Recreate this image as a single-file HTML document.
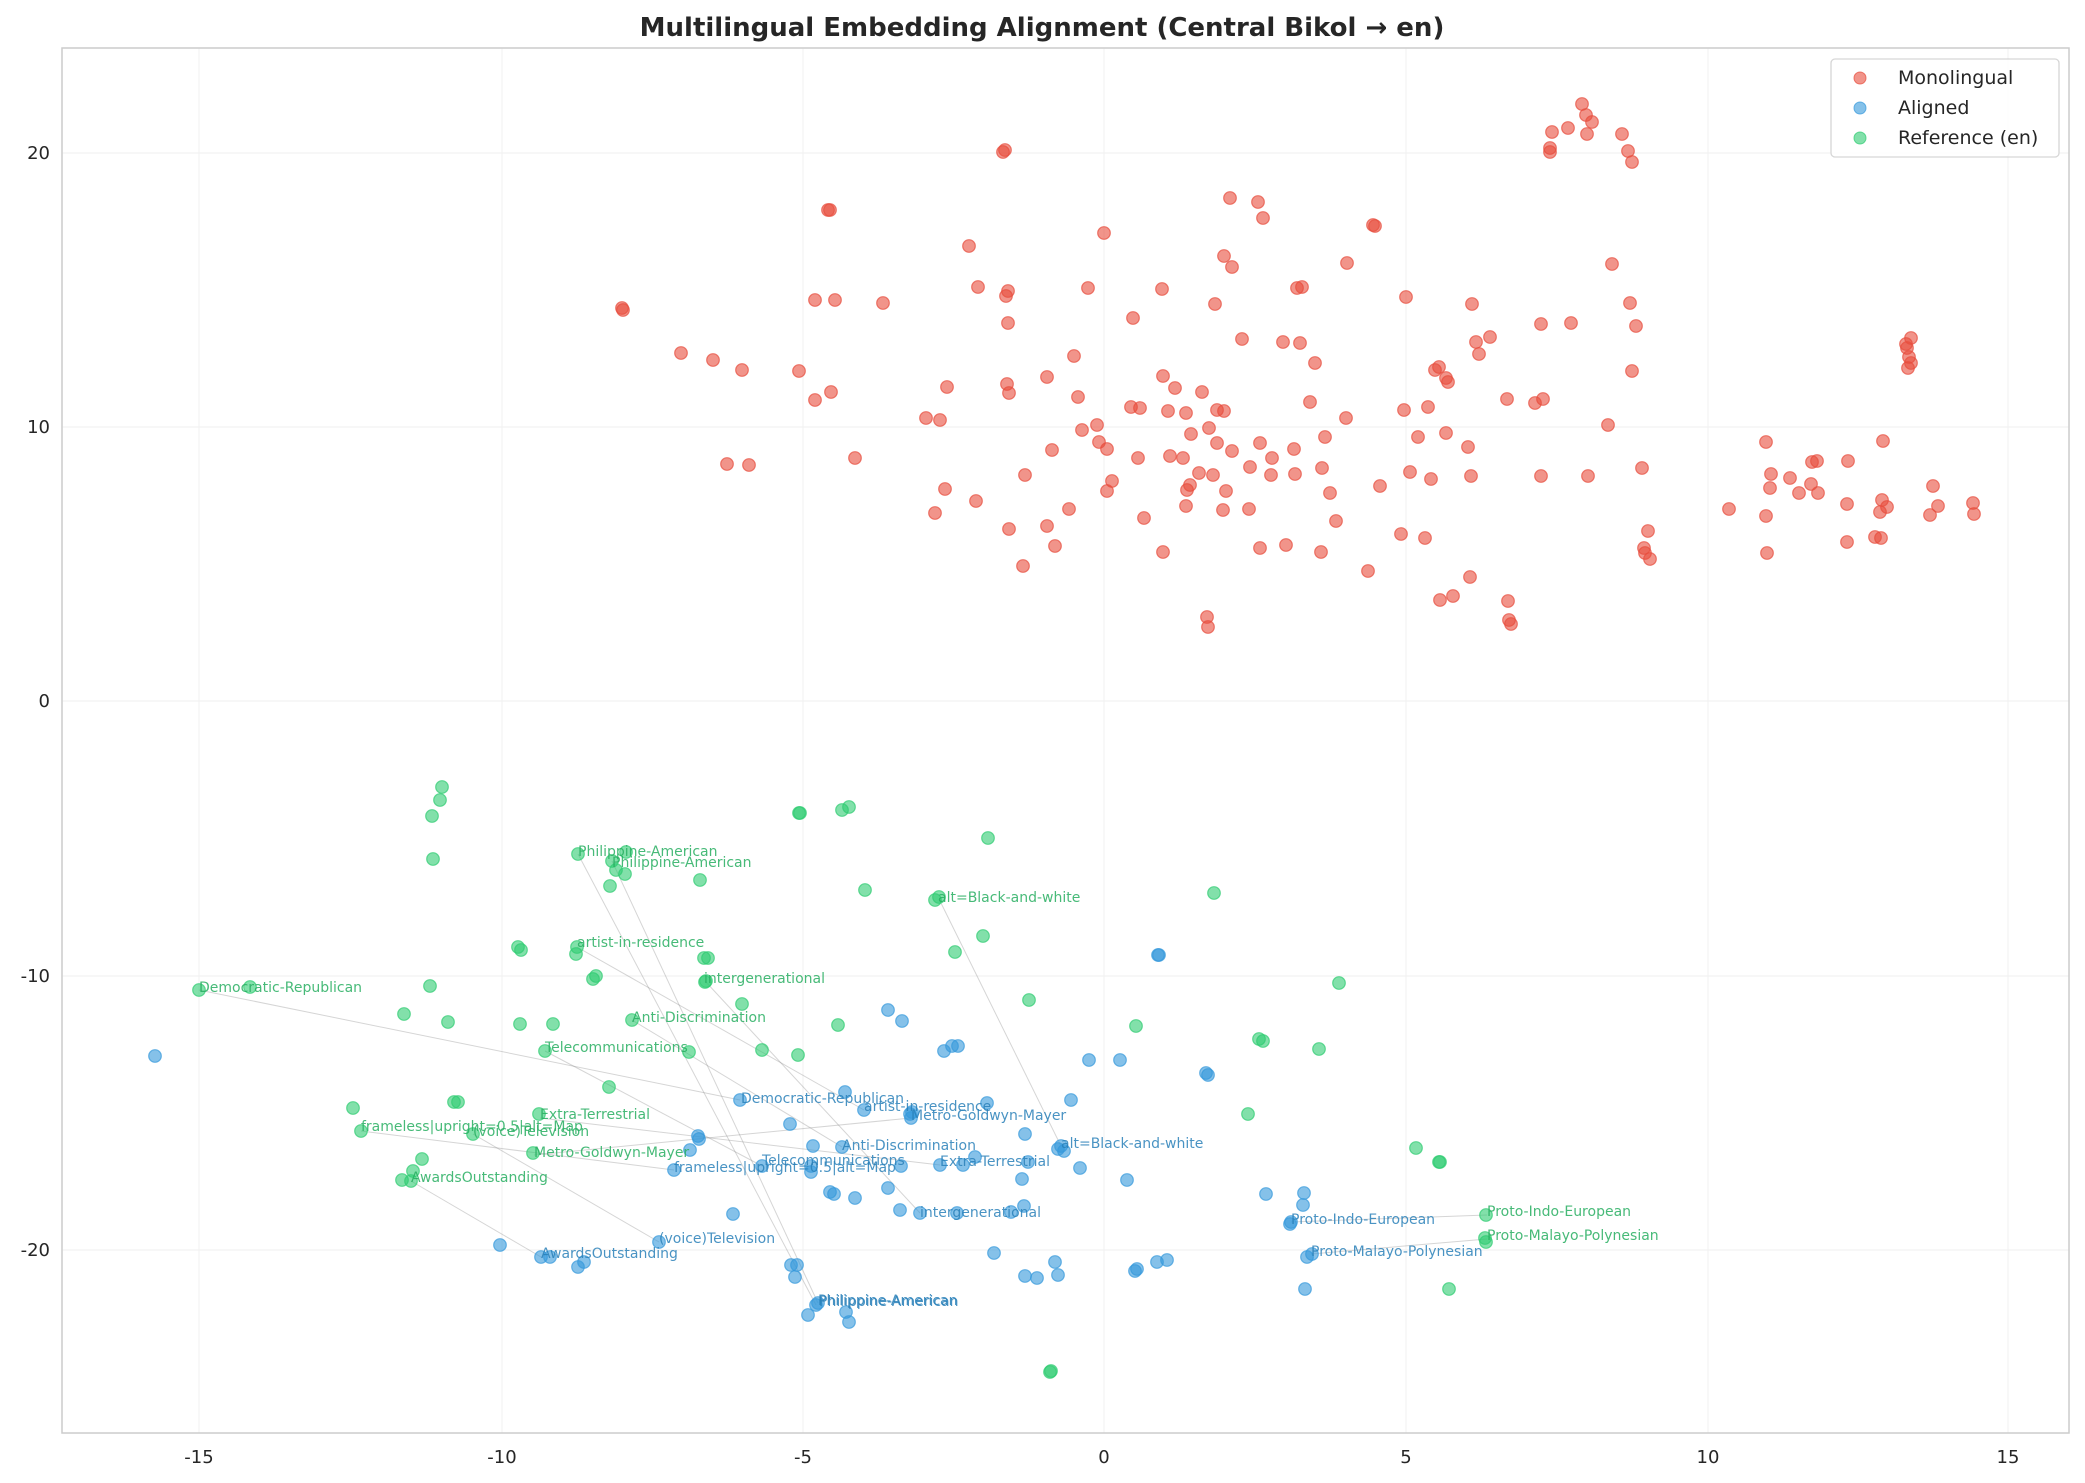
<!DOCTYPE html>
<html><head><meta charset="utf-8">
<style>
html,body{margin:0;padding:0;background:#fff;}
svg{display:block;font-family:"DejaVu Sans","Liberation Sans",sans-serif;}
</style></head>
<body>
<svg id="s" width="2085" height="1483" viewBox="0 0 2085 1483" xmlns="http://www.w3.org/2000/svg">
<rect width="2085" height="1483" fill="#fff"/>
<g stroke="#f2f2f2" stroke-width="1.2">
<line x1="199" y1="48" x2="199" y2="1433"/><line x1="502" y1="48" x2="502" y2="1433"/><line x1="803" y1="48" x2="803" y2="1433"/><line x1="1104" y1="48" x2="1104" y2="1433"/><line x1="1406" y1="48" x2="1406" y2="1433"/><line x1="1708" y1="48" x2="1708" y2="1433"/><line x1="2008" y1="48" x2="2008" y2="1433"/>
<line x1="62" y1="153" x2="2069" y2="153"/><line x1="62" y1="427" x2="2069" y2="427"/><line x1="62" y1="701" x2="2069" y2="701"/><line x1="62" y1="976" x2="2069" y2="976"/><line x1="62" y1="1250" x2="2069" y2="1250"/>
</g>
<rect x="62" y="48" width="2007" height="1385" fill="none" stroke="#cccccc" stroke-width="1.5"/>
<text x="1042" y="36" text-anchor="middle" font-size="26" font-weight="bold" fill="#262626">Multilingual Embedding Alignment (Central Bikol → en)</text>
<g font-size="18" fill="#262626" text-anchor="middle">
<text x="199" y="1463">-15</text><text x="502" y="1463">-10</text><text x="803" y="1463">-5</text><text x="1104" y="1463">0</text><text x="1406" y="1463">5</text><text x="1708" y="1463">10</text><text x="2008" y="1463">15</text>
</g>
<g font-size="18" fill="#262626" text-anchor="end">
<text x="50" y="159">20</text><text x="50" y="433">10</text><text x="50" y="707">0</text><text x="50" y="982">-10</text><text x="50" y="1256">-20</text>
</g>
<g stroke="#888" stroke-opacity="0.35" stroke-width="1">
<line x1="578" y1="854" x2="816" y2="1305"/><line x1="612" y1="861" x2="818" y2="1303"/>
<line x1="577" y1="947" x2="864" y2="1110"/><line x1="705" y1="981" x2="920" y2="1213"/>
<line x1="199" y1="990" x2="740" y2="1100"/><line x1="632" y1="1020" x2="842" y2="1147"/>
<line x1="545" y1="1051" x2="762" y2="1166"/><line x1="540" y1="1118" x2="940" y2="1165"/>
<line x1="361" y1="1131" x2="674" y2="1170"/><line x1="473" y1="1134" x2="659" y2="1242"/>
<line x1="534" y1="1155" x2="911" y2="1118"/><line x1="411" y1="1181" x2="541" y2="1257"/>
<line x1="1487" y1="1215" x2="1291" y2="1222"/><line x1="1487" y1="1239" x2="1311" y2="1254"/>
<line x1="939" y1="899" x2="1061" y2="1146"/>
</g>
<g id="pts"></g>
<g font-size="14" fill="#27ae60" fill-opacity="0.85">
<text x="578" y="856">Philippine-American</text>
<text x="612" y="867">Philippine-American</text>
<text x="938" y="902">alt=Black-and-white</text>
<text x="577" y="947">artist-in-residence</text>
<text x="704" y="983">intergenerational</text>
<text x="199" y="992">Democratic-Republican</text>
<text x="632" y="1022">Anti-Discrimination</text>
<text x="545" y="1052">Telecommunications</text>
<text x="540" y="1119">Extra-Terrestrial</text>
<text x="361" y="1131">frameless|upright=0.5|alt=Map</text>
<text x="473" y="1136">(voice)Television</text>
<text x="534" y="1157">Metro-Goldwyn-Mayer</text>
<text x="411" y="1182">AwardsOutstanding</text>
<text x="1487" y="1216">Proto-Indo-European</text>
<text x="1487" y="1240">Proto-Malayo-Polynesian</text>
</g>
<g font-size="14" fill="#2980b9" fill-opacity="0.85">
<text x="741" y="1103">Democratic-Republican</text>
<text x="864" y="1111">artist-in-residence</text>
<text x="911" y="1120">Metro-Goldwyn-Mayer</text>
<text x="842" y="1150">Anti-Discrimination</text>
<text x="1061" y="1148">alt=Black-and-white</text>
<text x="762" y="1165">Telecommunications</text>
<text x="940" y="1166">Extra-Terrestrial</text>
<text x="674" y="1172">frameless|upright=0.5|alt=Map</text>
<text x="920" y="1217">intergenerational</text>
<text x="1291" y="1224">Proto-Indo-European</text>
<text x="1311" y="1256">Proto-Malayo-Polynesian</text>
<text x="541" y="1258">AwardsOutstanding</text>
<text x="659" y="1243">(voice)Television</text>
<text x="818" y="1305">Philippine-American</text>
<text x="819" y="1306">Philippine-American</text>
</g>
<rect x="1831" y="59" width="228" height="98" rx="4" fill="#fff" fill-opacity="0.85" stroke="#d6d6d6" stroke-width="1.3"/>
<circle cx="1860" cy="78" r="6" fill="#e74c3c" fill-opacity="0.6" stroke="#e74c3c" stroke-opacity="0.7"/>
<circle cx="1860" cy="108" r="6" fill="#3498db" fill-opacity="0.6" stroke="#3498db" stroke-opacity="0.7"/>
<circle cx="1860" cy="138" r="6" fill="#2ecc71" fill-opacity="0.6" stroke="#2ecc71" stroke-opacity="0.7"/>
<g font-size="19" fill="#262626">
<text x="1898" y="84">Monolingual</text><text x="1898" y="114">Aligned</text><text x="1898" y="144">Reference (en)</text>
</g>
</svg>
<script>
var R=[1586,115,1582,104,1550,152,1568,128,1552,132,1592,122,1632,162,1587,134,1550,148,1628,151,1622,134,1005,150,1003,152,828,210,830,210,1104,233,622,308,623,310,1230,198,1258,202,1263,218,1373,225,1375,226,1224,256,1232,267,1283,342,1612,264,1911,338,1907,348,1911,363,1909,357,969,246,1008,291,1006,296,1008,323,1088,288,1133,318,1009,393,978,287,1162,289,1215,304,1242,339,1302,287,1297,288,1347,263,1300,343,1406,297,1472,304,1476,342,1439,367,1446,378,1448,382,1404,410,1490,337,1541,324,1571,323,1479,354,1435,370,1632,371,1636,326,1535,403,1543,399,1428,407,1630,303,815,300,835,300,883,303,681,353,713,360,831,392,815,400,947,387,926,418,940,420,799,371,742,370,855,458,749,465,727,464,935,513,1047,377,1007,384,1074,356,1078,397,1052,450,1025,475,1099,442,1097,425,1082,430,1107,449,1138,458,1112,481,1131,407,1175,388,1163,376,1202,392,1224,411,1186,413,1209,428,1217,410,1191,434,1168,411,1140,408,1217,443,1232,451,1226,491,1260,443,1272,458,1294,449,1325,437,1310,402,1315,363,1346,418,1322,468,1286,545,1330,493,1336,521,1380,486,1446,433,1418,437,1507,399,1431,479,1410,472,1468,447,1471,476,1401,534,1440,600,1453,596,1470,577,1207,617,1208,627,1163,552,1183,458,1199,473,1190,485,1170,456,1250,467,1213,475,1295,474,1321,552,1271,475,1223,510,945,489,976,501,1055,546,1047,526,1023,566,1009,529,1069,509,1107,491,1186,506,1144,518,1187,490,1249,509,1260,548,1368,571,1425,538,1508,601,1511,624,1509,620,1644,548,1648,531,1645,553,1541,476,1588,476,1608,425,1642,468,1729,509,1766,516,1770,488,1771,474,1799,493,1811,484,1847,504,1882,500,1887,507,1818,493,1812,462,1848,461,1883,441,1766,442,1790,478,1767,553,1847,542,1875,537,1938,506,1933,486,1908,368,1906,344,1650,559,1817,461,1880,512,1974,514,1973,503,1881,538,1930,515];
var G=[442,787,440,800,432,816,433,859,799,813,800,813,849,807,842,810,578,854,612,861,626,852,700,880,616,870,610,886,625,874,865,890,1214,893,988,838,939,897,935,900,983,936,955,952,577,947,518,947,521,950,576,954,596,976,593,979,708,958,704,958,706,981,705,982,742,1004,1339,983,430,986,250,987,199,990,404,1014,448,1022,520,1024,553,1024,632,1020,838,1025,1029,1000,1136,1026,1259,1039,1263,1041,1319,1049,545,1051,689,1052,798,1055,609,1087,454,1102,458,1102,353,1108,539,1114,361,1131,473,1134,1248,1114,1416,1148,1439,1162,1440,1162,422,1159,413,1171,411,1181,402,1180,533,1153,1486,1215,1485,1238,1486,1242,1449,1289,1051,1371,1050,1372,762,1050];
var B=[155,1056,1158,955,1159,955,888,1010,902,1021,952,1046,958,1046,944,1051,1089,1060,1120,1060,1208,1075,1206,1073,1071,1100,987,1103,912,1112,910,1114,740,1100,845,1092,864,1110,790,1124,698,1136,699,1139,674,1170,690,1150,813,1146,842,1147,811,1166,811,1172,834,1194,888,1188,901,1166,963,1165,975,1157,1028,1162,1025,1134,1058,1149,1064,1151,1080,1168,1127,1180,1022,1179,900,1210,920,1213,957,1213,1011,1212,1024,1206,830,1192,855,1198,733,1214,1290,1224,1304,1193,1303,1205,1266,1194,1312,1254,1307,1257,1305,1289,1291,1222,550,1257,541,1257,500,1245,578,1267,584,1262,659,1242,791,1265,797,1265,994,1253,1037,1278,1137,1269,1135,1271,1157,1262,1167,1260,1055,1262,1058,1275,795,1277,816,1305,818,1303,808,1315,846,1312,849,1322,1025,1276,762,1166,940,1165,911,1118,1061,1146];
var s='';
function add(a,c){for(var i=0;i<a.length;i+=2)s+='<circle cx="'+a[i]+'" cy="'+a[i+1]+'" r="6.3" fill="'+c+'" fill-opacity="0.6" stroke="'+c+'" stroke-opacity="0.7" stroke-width="1.2"/>';}
add(R,'#e74c3c');add(B,'#3498db');add(G,'#2ecc71');
document.getElementById('pts').innerHTML=s;
</script>
</body></html>
